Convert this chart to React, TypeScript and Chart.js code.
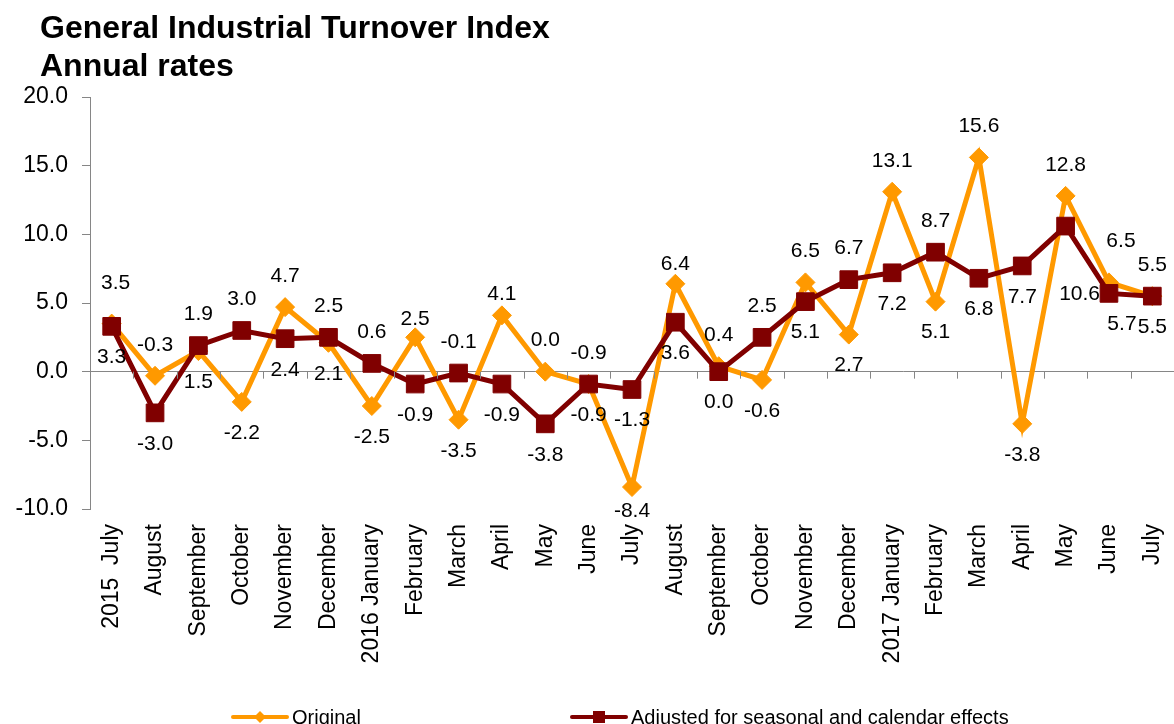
import React, { useEffect, useRef } from 'react';
import { Chart, registerables } from 'chart.js';

Chart.register(...registerables);

const TITLE_LINES = ['General Industrial Turnover Index', 'Annual rates'];

const CATEGORIES = [
  '2015  July', 'August', 'September', 'October', 'November', 'December',
  '2016 January', 'February', 'March', 'April', 'May', 'June',
  'July', 'August', 'September', 'October', 'November', 'December',
  '2017 January', 'February', 'March', 'April', 'May', 'June', 'July',
];

const ORIGINAL = [
  3.5, -0.3, 1.5, -2.2, 4.7, 2.1, -2.5, 2.5, -3.5, 4.1, 0.0, -0.9,
  -8.4, 6.4, 0.4, -0.6, 6.5, 2.7, 13.1, 5.1, 15.6, -3.8, 12.8, 6.5, 5.5,
];

const ADJUSTED = [
  3.3, -3.0, 1.9, 3.0, 2.4, 2.5, 0.6, -0.9, -0.1, -0.9, -3.8, -0.9,
  -1.3, 3.6, 0.0, 2.5, 5.1, 6.7, 7.2, 8.7, 6.8, 7.7, 10.6, 5.7, 5.5,
];

const SERIES_NAMES = ['Original', 'Adjusted for seasonal and calendar effects'];

const Y_MIN = -10;
const Y_MAX = 20;
const Y_STEP = 5;

// label side: 'a' above the marker, 'b' below the marker
const ORIGINAL_LABEL_SIDE = [
  'a', 'a', 'b', 'b', 'a', 'b', 'b', 'a', 'b', 'a', 'a', 'a',
  'b', 'a', 'a', 'b', 'a', 'b', 'a', 'b', 'a', 'b', 'a', 'a', 'a',
];
const ADJUSTED_LABEL_SIDE = [
  'b', 'b', 'a', 'a', 'b', 'a', 'a', 'b', 'a', 'b', 'b', 'b',
  'b', 'b', 'b', 'a', 'b', 'a', 'b', 'a', 'b', 'b', 'b', 'b', 'b',
];

const ORANGE = '#FF9900';
const DARK_RED = '#800000';
const AXIS_GRAY = '#868686';
const FONT = '"Liberation Sans", Arial, sans-serif';

const LABEL_NUDGE: Record<string, [number, number]> = {
  '0-0': [4, -9],
  '0-7': [0, 13],
  '0-9': [0, 10],
  '0-12': [0, -7],
  '0-13': [0, 11],
  '0-23': [12, -10],
  '1-22': [14, 37],
  '1-23': [13, 0],
};

export default function App() {
  const canvasRef = useRef<HTMLCanvasElement | null>(null);

  useEffect(() => {
    const prevMargin = document.body.style.margin;
    document.body.style.margin = '0';
    const canvas = canvasRef.current;
    if (!canvas) return;

    const labelPlugin = {
      id: 'valueLabels',
      afterDatasetsDraw(chart: any) {
        const ctx = chart.ctx;
        ctx.save();
        ctx.font = `21px ${FONT}`;
        ctx.fillStyle = '#000';
        ctx.textAlign = 'center';
        ctx.textBaseline = 'middle';
        chart.data.datasets.forEach((ds: any, di: number) => {
          const meta = chart.getDatasetMeta(di);
          const sides = di === 0 ? ORIGINAL_LABEL_SIDE : ADJUSTED_LABEL_SIDE;
          meta.data.forEach((el: any, i: number) => {
            const v = ds.data[i] as number;
            const off = sides[i] === 'a' ? -31 : 31;
            const n = LABEL_NUDGE[`${di}-${i}`] || [0, 0];
            ctx.fillText(v.toFixed(1), el.x + n[0], el.y + off + n[1]);
          });
        });
        ctx.restore();
      },
    };

    const decorPlugin = {
      id: 'decor',
      afterDraw(chart: any) {
        const ctx = chart.ctx;
        const xs = chart.scales.x;
        const ys = chart.scales.y;
        ctx.save();
        // category tick marks on the zero line
        const y0 = ys.getPixelForValue(0);
        ctx.strokeStyle = AXIS_GRAY;
        ctx.lineWidth = 1;
        for (let i = 1; i < CATEGORIES.length; i++) {
          const xb = Math.round((xs.getPixelForValue(i - 1) + xs.getPixelForValue(i)) / 2) + 0.5;
          ctx.beginPath();
          ctx.moveTo(xb, y0);
          ctx.lineTo(xb, y0 + 7);
          ctx.stroke();
        }
        // title
        ctx.fillStyle = '#000';
        ctx.font = `bold 32px ${FONT}`;
        ctx.textAlign = 'left';
        ctx.textBaseline = 'alphabetic';
        ctx.fillText(TITLE_LINES[0], 40, 38);
        ctx.fillText(TITLE_LINES[1], 40, 76);
        // legend
        const ly = 717;
        const items = [
          { x: 233, color: ORANGE, shape: 'diamond' },
          { x: 572, color: DARK_RED, shape: 'square' },
        ];
        ctx.font = `20px ${FONT}`;
        items.forEach((it, k) => {
          ctx.strokeStyle = it.color;
          ctx.fillStyle = it.color;
          ctx.lineWidth = 4;
          ctx.lineCap = 'round';
          ctx.beginPath();
          ctx.moveTo(it.x, ly);
          ctx.lineTo(it.x + 54, ly);
          ctx.stroke();
          const cx = it.x + 27;
          ctx.beginPath();
          if (it.shape === 'diamond') {
            ctx.moveTo(cx - 6, ly);
            ctx.lineTo(cx, ly - 6);
            ctx.lineTo(cx + 6, ly);
            ctx.lineTo(cx, ly + 6);
          } else {
            ctx.rect(cx - 6, ly - 6, 12, 12);
          }
          ctx.closePath();
          ctx.fill();
          ctx.fillStyle = '#000';
          ctx.textBaseline = 'middle';
          ctx.fillText(SERIES_NAMES[k], it.x + 59, ly + 1);
        });
        ctx.restore();
      },
    };

    const chart = new Chart(canvas, {
      type: 'line',
      data: {
        labels: CATEGORIES,
        datasets: [
          {
            label: SERIES_NAMES[0],
            data: ORIGINAL,
            borderColor: ORANGE,
            backgroundColor: ORANGE,
            borderWidth: 5,
            pointStyle: 'rectRot',
            pointRadius: 9.5,
            pointBorderWidth: 1,
            pointBackgroundColor: ORANGE,
            pointBorderColor: ORANGE,
            tension: 0,
            order: 2,
          },
          {
            label: SERIES_NAMES[1],
            data: ADJUSTED,
            borderColor: DARK_RED,
            backgroundColor: DARK_RED,
            borderWidth: 5,
            pointStyle: 'rect',
            pointRadius: 12.5,
            pointBorderWidth: 1,
            pointBackgroundColor: DARK_RED,
            pointBorderColor: DARK_RED,
            tension: 0,
            order: 1,
          },
        ],
      },
      options: {
        responsive: false,
        animation: false,
        devicePixelRatio: 1,
        layout: { autoPadding: false, padding: { top: 97, left: 0, right: 0, bottom: 0 } },
        plugins: {
          legend: { display: false },
          title: { display: false },
          tooltip: { enabled: false },
        },
        scales: {
          x: {
            type: 'category',
            offset: true,
            grid: { display: false, drawTicks: false },
            border: { display: false },
            ticks: {
              autoSkip: false,
              maxRotation: 90,
              minRotation: 90,
              padding: 15,
              color: '#000',
              font: { family: FONT, size: 23 },
            },
            afterFit(scale: any) {
              scale.height = 215;
              scale.paddingLeft = 0;
              scale.paddingRight = 0;
            },
          },
          y: {
            min: Y_MIN,
            max: Y_MAX,
            grid: {
              color: (c: any) => (c.tick && c.tick.value === 0 ? AXIS_GRAY : 'rgba(0,0,0,0)'),
              tickColor: AXIS_GRAY,
              tickLength: 8,
              lineWidth: 1,
            },
            border: { display: true, color: AXIS_GRAY, width: 1 },
            ticks: {
              stepSize: Y_STEP,
              padding: 14,
              color: '#000',
              font: { family: FONT, size: 23 },
              callback: (v: any) => Number(v).toFixed(1),
            },
            afterFit(scale: any) {
              scale.width = 90;
            },
          },
        },
      },
      plugins: [labelPlugin, decorPlugin],
    });

    return () => {
      chart.destroy();
      document.body.style.margin = prevMargin;
    };
  }, []);

  return (
    <div style={{ position: 'fixed', left: 0, top: 0, width: 1174, height: 724, background: '#fff' }}>
      <canvas ref={canvasRef} width={1174} height={724} style={{ display: 'block' }} />
    </div>
  );
}
